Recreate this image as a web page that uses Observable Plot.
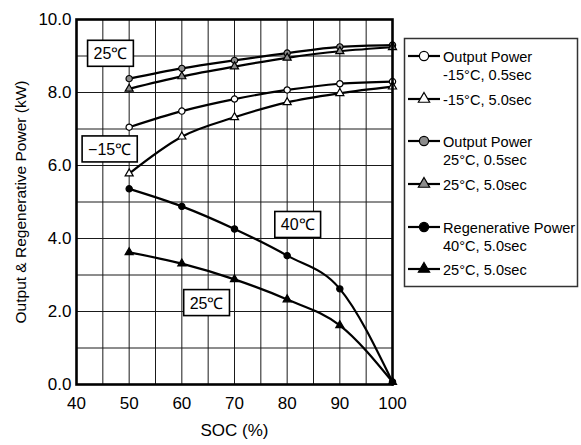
<!DOCTYPE html>
<html>
<head>
<meta charset="utf-8">
<script src="https://cdn.jsdelivr.net/npm/d3@7"></script>
<script src="https://cdn.jsdelivr.net/npm/@observablehq/plot@0.6"></script>
<style>
  html, body { margin: 0; padding: 0; background: white; }
  #wrap { position: relative; width: 581px; height: 445px; font-family: "Liberation Sans", Arial, sans-serif; }
  #legend { position: absolute; left: 0; top: 0; pointer-events: none; }
</style>
</head>
<body>
<div id="wrap"></div>
<script>
// ---- data ----
const soc = [50, 60, 70, 80, 90, 100];
const outM15_05 = [7.05, 7.49, 7.82, 8.07, 8.24, 8.30];
const outM15_50 = [5.78, 6.79, 7.32, 7.73, 7.98, 8.16];
const out25_05  = [8.38, 8.66, 8.88, 9.08, 9.25, 9.30];
const out25_50  = [8.10, 8.44, 8.71, 8.95, 9.13, 9.24];
const regen40_50 = [5.36, 4.88, 4.26, 3.53, 2.62, 0.07];
const regen25_50 = [3.62, 3.31, 2.88, 2.33, 1.62, 0.07];

const xTicks = [40, 50, 60, 70, 80, 90, 100];
const yTicks = [0, 2, 4, 6, 8, 10];
const xGrid = [45, 50, 55, 60, 65, 70, 75, 80, 85, 90, 95];
const yGrid = [1, 2, 3, 4, 5, 6, 7, 8, 9];

const seriesNames = ["-15°C 0.5sec", "-15°C 5.0sec", "25°C 0.5sec", "25°C 5.0sec", "Regen 40°C 5.0sec", "Regen 25°C 5.0sec"];
const seriesValues = [outM15_05, outM15_50, out25_05, out25_50, regen40_50, regen25_50];
const seriesSymbols = ["circle", "triangle", "circle", "triangle", "circle", "triangle"];
const seriesFills = ["white", "white", "#8c8c8c", "#8c8c8c", "black", "black"];
const legendLines = [
  ["Output Power", "-15°C, 0.5sec"],
  ["-15°C, 5.0sec"],
  ["Output Power", "25°C, 0.5sec"],
  ["25°C, 5.0sec"],
  ["Regenerative Power", "40°C, 5.0sec"],
  ["25°C, 5.0sec"]
];

const boxLabelText = ["25℃", "−15℃", "40℃", "25℃"];
const boxLabelX = [46.45, 46.3, 82.0, 64.7];
const boxLabelY = [9.05, 6.43, 4.36, 2.22];

// ---- build table ----
const rows = [];
seriesNames.forEach((name, i) => {
  soc.forEach((s, j) => rows.push({series: name, soc: s, value: seriesValues[i][j],
    symbol: seriesSymbols[i], fill: seriesFills[i]}));
});
const labels = boxLabelText.map((t, i) => ({text: t, x: boxLabelX[i], y: boxLabelY[i]}));

const font = "'Liberation Sans', Arial, sans-serif";

const chart = Plot.plot({
  width: 581,
  height: 445,
  marginLeft: 76,
  marginRight: 189,
  marginTop: 19,
  marginBottom: 61,
  style: {fontFamily: font, fontSize: "16px", color: "black", background: "white"},
  x: {domain: [40, 100]},
  y: {domain: [0, 10]},
  symbol: {type: "identity"},
  marks: [
    Plot.ruleX(xGrid, {stroke: "#1a1a1a", strokeWidth: 1}),
    Plot.ruleY(yGrid, {stroke: "#1a1a1a", strokeWidth: 1}),
    Plot.axisX({ticks: xTicks, tickSize: 0, tickPadding: 12, fontSize: 17, tickFormat: d => String(d),
      label: "SOC (%)", labelAnchor: "center", labelArrow: "none", labelOffset: 51}),
    Plot.axisY({ticks: yTicks, tickSize: 0, tickPadding: 5, fontSize: 17, tickFormat: d => d.toFixed(1),
      label: null}),
    Plot.axisY({ticks: [], tickSize: 0, fontSize: 15.5,
      label: "Output & Regenerative Power (kW)", labelAnchor: "center", labelArrow: "none", labelOffset: 62}),
    Plot.line(rows, {x: "soc", y: "value", z: "series", stroke: "black", strokeWidth: 2.2, curve: "monotone-x"}),
    Plot.dot(rows, {x: "soc", y: "value", symbol: d => d.symbol, fill: d => d.fill,
      stroke: "black", strokeWidth: 1.2, r: d => d.symbol === "circle" ? 4.6 : 4.2}),
    Plot.frame({stroke: "black", strokeWidth: 2.6}),
    Plot.text(labels, {x: "x", y: "y", text: "text", fontSize: 16, fill: "black", className: "boxlbl"})
  ]
});

const wrap = document.getElementById("wrap");
wrap.appendChild(chart);

// draw white boxes behind the annotation labels
chart.querySelectorAll('.boxlbl text').forEach(t => {
  const b = t.getBBox();
  const r = document.createElementNS("http://www.w3.org/2000/svg", "rect");
  r.setAttribute("x", b.x - 6);
  r.setAttribute("y", b.y - 5);
  r.setAttribute("width", b.width + 12);
  r.setAttribute("height", b.height + 9);
  r.setAttribute("fill", "white");
  r.setAttribute("stroke", "black");
  r.setAttribute("stroke-width", 1.6);
  if (t.getAttribute("transform")) r.setAttribute("transform", t.getAttribute("transform"));
  t.parentNode.insertBefore(r, t);
});

// ---- legend ----
const lg = d3.select(wrap).append("svg").attr("id", "legend")
  .attr("width", 581).attr("height", 445)
  .style("font-family", font).style("font-size", "14.6px");
lg.append("rect").attr("x", 404.5).attr("y", 38.5).attr("width", 173).attr("height", 248)
  .attr("fill", "white").attr("stroke", "#333").attr("stroke-width", 1.5);
const glyphY = [56, 99, 141, 184, 227, 269];
seriesNames.forEach((name, i) => {
  const g = lg.append("g").attr("transform", `translate(0,${glyphY[i]})`);
  g.append("line").attr("x1", 408).attr("x2", 440).attr("stroke", "black").attr("stroke-width", 2.2);
  const size = seriesSymbols[i] === "circle" ? Math.PI * 4.6 * 4.6 : Math.PI * 4.2 * 4.2;
  const sym = seriesSymbols[i] === "circle" ? d3.symbolCircle : d3.symbolTriangle;
  g.append("path").attr("transform", "translate(424,0)").attr("d", d3.symbol(sym, size)())
    .attr("fill", seriesFills[i]).attr("stroke", "black").attr("stroke-width", 1.2);
  legendLines[i].forEach((line, k) => {
    g.append("text").attr("x", 443).attr("y", 6 + k * 17.5).text(line).attr("fill", "black");
  });
});
</script>
</body>
</html>
